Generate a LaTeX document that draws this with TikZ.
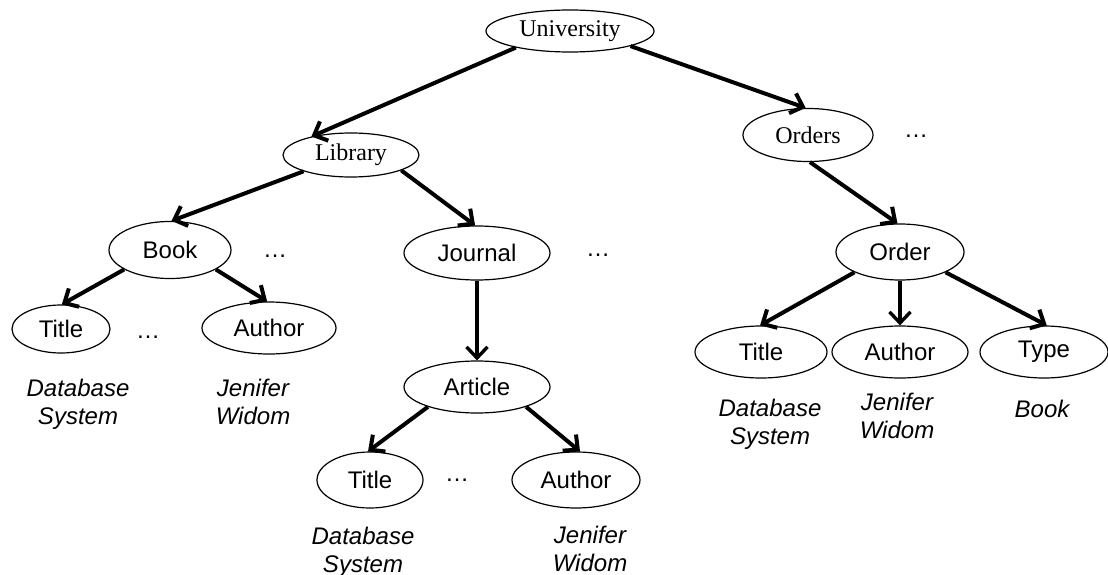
\documentclass[tikz,border=0pt]{standalone}
\usepackage{fontspec}
\setmainfont{Liberation Serif}
\newfontfamily\arialf{Liberation Sans}
\usetikzlibrary{shapes.geometric,arrows.meta}
\begin{document}
\begin{tikzpicture}[x=1pt,y=-1pt,
  el/.style={ellipse,draw,line width=1.2pt,inner sep=0pt,font=\fontsize{24}{27.6}\selectfont},
  sel/.style={el,font=\arialf\fontsize{24}{27.6}\selectfont},
  arr/.style={line width=4pt,-{Straight Barb[length=11pt,width=21pt]}},
  lbl/.style={align=center,inner sep=0pt,font=\arialf\itshape\fontsize{24}{27.6}\selectfont},
  dots/.style={anchor=base,inner sep=0pt,font=\arialf\fontsize{24}{27.6}\selectfont}]
\useasboundingbox (0,0) rectangle (1108,575);
% nodes
\node[el,minimum width=168pt,minimum height=42pt] (U) at (570,31) {University};
\node[el,minimum width=136pt,minimum height=44pt] (Lib) at (351,155) {Library};
\node[el,minimum width=130pt,minimum height=53pt] (Ords) at (808,135) {Orders};
\node[sel,minimum width=122pt,minimum height=57pt] (Book) at (170,250) {Book};
\node[sel,minimum width=146pt,minimum height=54pt] (J) at (477,253) {Journal};
\node[sel,minimum width=128pt,minimum height=56pt] (Ord) at (900,252) {Order};
\node[sel,minimum width=98pt,minimum height=48pt] (BT) at (61,329) {Title};
\node[sel,minimum width=134pt,minimum height=52pt] (BA) at (269,328) {Author};
\node[sel,minimum width=146pt,minimum height=52pt] (Art) at (477,387) {Article};
\node[sel,minimum width=106pt,minimum height=56pt] (AT) at (370,480) {Title};
\node[sel,minimum width=128pt,minimum height=56pt] (AA) at (576,480) {Author};
\node[sel,minimum width=132pt,minimum height=52pt] (OT) at (761,352) {Title};
\node[sel,minimum width=136pt,minimum height=52pt] (OA) at (900,352) {Author};
\node[sel,minimum width=128pt,minimum height=52pt] (Ty) at (1044,352) {Type};
% dots
\node[dots] (d1) at (916,138) {…};
\node[dots] (d2) at (275,257) {…};
\node[dots] (d3) at (598,256) {…};
\node[dots] (d4) at (148,338) {…};
\node[dots] (d5) at (457,481) {…};
% value labels
\node[lbl] (v1) at (78,404.5) {Database\\System};
\node[lbl] (v2) at (253,402) {Jenifer\\Widom};
\node[lbl] (v3) at (363,552.5) {Database\\System};
\node[lbl] (v4) at (590,549) {Jenifer\\Widom};
\node[lbl] (v5) at (770,424.5) {Database\\System};
\node[lbl] (v6) at (897,416) {Jenifer\\Widom};
\node[lbl,anchor=base] (v7) at (1042,417) {Book};
% connectors
\draw[arr] (U.197) -- (Lib.155);
\draw[arr] (U.346) -- (Ords.95);
\draw[arr] (Lib.199) -- (Book.87);
\draw[arr] (Lib.343) -- (J.94);
\draw[arr] (Ords.274) -- (Ord.95);
\draw[arr] (Book.203) -- (BT.88);
\draw[arr] (Book.337) -- (BA.94);
\draw[arr,line width=3.4pt] (J.270) -- (Art.90);
\draw[arr] (Art.202) -- (AT.94);
\draw[arr] (Art.338) -- (AA.82);
\draw[arr] (Ord.204) -- (OT.92);
\draw[arr,line width=3.4pt] (Ord.270) -- (OA.90);
\draw[arr] (Ord.336) -- (Ty.84);
\end{tikzpicture}
\end{document}
